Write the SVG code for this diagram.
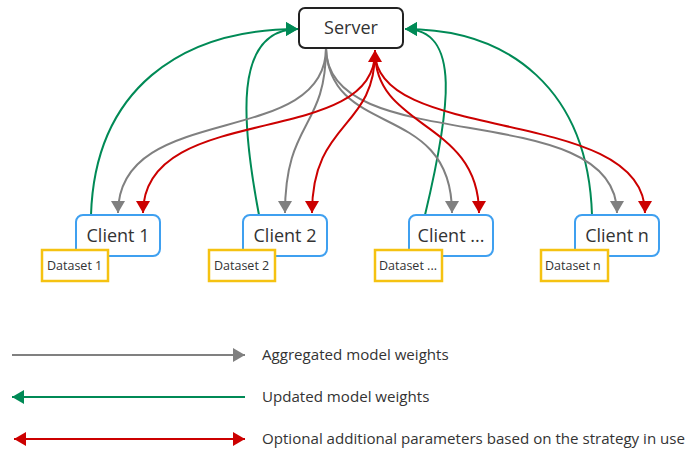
<svg xmlns="http://www.w3.org/2000/svg" width="689" height="450" viewBox="0 0 689 450">
<style>
text{font-family:"Open Sans","Noto Sans","Liberation Sans",sans-serif;fill:#333}
.srv{fill:#fff;stroke:#222;stroke-width:2}
.cli{fill:#fff;stroke:#3fa0f0;stroke-width:2}
.ds{fill:#fff;stroke:#f5c211;stroke-width:2.5}
.big{font-size:18px;text-anchor:middle}
.dst{font-size:12.5px}
.leg{font-size:15.1px}
.g{fill:none;stroke:#808080;stroke-width:2;marker-end:url(#ag)}
.gr{fill:none;stroke:#008a56;stroke-width:2;marker-end:url(#agr)}
.r{fill:none;stroke:#cc0000;stroke-width:2;marker-end:url(#ar)}
</style>
<defs>
<marker id="ag" markerUnits="userSpaceOnUse" markerWidth="14" markerHeight="14" refX="12" refY="7" orient="auto"><path d="M0,0 L12,7 L0,14 z" fill="#808080"/></marker>
<marker id="agr" markerUnits="userSpaceOnUse" markerWidth="14" markerHeight="14" refX="12" refY="7" orient="auto"><path d="M0,0 L12,7 L0,14 z" fill="#008a56"/></marker>
<marker id="ar" markerUnits="userSpaceOnUse" markerWidth="14" markerHeight="14" refX="12" refY="7" orient="auto"><path d="M0,0 L12,7 L0,14 z" fill="#cc0000"/></marker>
<marker id="ars" markerUnits="userSpaceOnUse" markerWidth="14" markerHeight="14" refX="12" refY="7" orient="auto-start-reverse"><path d="M0,0 L12,7 L0,14 z" fill="#cc0000"/></marker>
</defs>
<g id="connectors">
<path class="gr" d="M91,215 C95,90 180,29 298,29"/>
<path class="gr" d="M259,215 C242,125 232,29 298,29"/>
<path class="gr" d="M425,215 C450,110 462,29 405,29"/>
<path class="gr" d="M592,215 C588,90 510,29 405,29"/>
<path class="g" d="M326,48 C326,150 118,100 118,213"/>
<path class="g" d="M326,48 C326,130 285,120 285,213"/>
<path class="g" d="M326,48 C330,140 452,100 452,213"/>
<path class="g" d="M326,48 C326,160 617,95 617,213"/>
<path class="r" d="M375,52 C375,150 143,100 143,213"/>
<path class="r" d="M375,52 C375,130 312,120 312,213"/>
<path class="r" d="M375,52 C375,130 479,120 479,213"/>
<path class="r" d="M375,52 C375,145 645,105 645,213"/>
<path d="M375,60 L375,50" fill="none" stroke="#cc0000" stroke-width="2" marker-end="url(#ar)"/>
</g>
<g id="server"><rect class="srv" x="299" y="8" width="104" height="40" rx="6"/><text class="big" x="351" y="34">Server</text></g>
<g id="client1"><rect class="cli" x="76" y="215" width="84" height="41" rx="7"/><text class="big" x="118" y="242">Client 1</text></g>
<g id="client2"><rect class="cli" x="243" y="215" width="84" height="41" rx="7"/><text class="big" x="285" y="242">Client 2</text></g>
<g id="client3"><rect class="cli" x="409" y="215" width="84" height="41" rx="7"/><text class="big" x="451" y="242">Client ...</text></g>
<g id="clientn"><rect class="cli" x="575" y="215" width="84" height="41" rx="7"/><text class="big" x="617" y="242">Client n</text></g>
<g id="dataset1"><rect class="ds" x="42" y="250" width="66" height="31"/><text class="dst" x="47" y="270">Dataset 1</text></g>
<g id="dataset2"><rect class="ds" x="209" y="250" width="66" height="31"/><text class="dst" x="214" y="270">Dataset 2</text></g>
<g id="dataset3"><rect class="ds" x="375" y="250" width="67" height="31"/><text class="dst" x="379" y="270">Dataset ...</text></g>
<g id="datasetn"><rect class="ds" x="541" y="250" width="67" height="31"/><text class="dst" x="545" y="270">Dataset n</text></g>
<g id="legend">
<path class="g" d="M12,355 L245,355"/>
<path class="gr" d="M245,397 L12,397"/>
<path d="M14,439 L245,439" fill="none" stroke="#cc0000" stroke-width="2" marker-start="url(#ars)" marker-end="url(#ar)"/>
<text class="leg" x="262" y="360">Aggregated model weights</text>
<text class="leg" x="262" y="402">Updated model weights</text>
<text class="leg" x="262" y="444">Optional additional parameters based on the strategy in use</text>
</g>
</svg>
